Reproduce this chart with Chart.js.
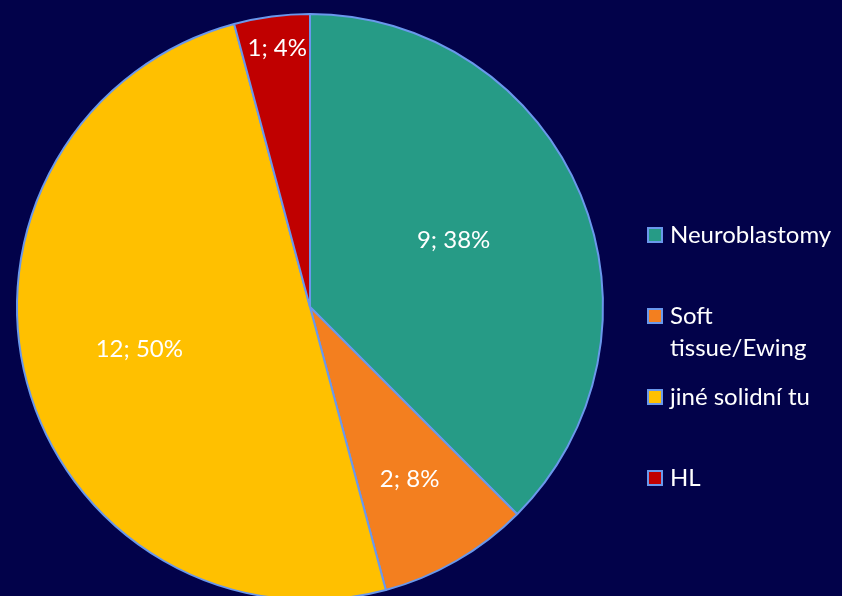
<!DOCTYPE html>
<html><head><meta charset="utf-8">
<script src="https://cdn.jsdelivr.net/npm/chart.js@4/dist/chart.umd.min.js"></script>
<style>
html,body{margin:0;padding:0;background:#02024a;overflow:hidden;}
#wrap{position:relative;width:842px;height:614px;}
</style></head><body>
<div id="wrap"><canvas id="c"></canvas></div>
<script>
const categories = ['Neuroblastomy', 'Soft tissue/Ewing', 'jiné solidní tu', 'HL'];
const values = [9, 2, 12, 1];
const percents = [38, 8, 50, 4];
const colors = ['#269B86', '#F37F1F', '#FFC000', '#C00000'];

const FONT = 'Lato, "Open Sans", sans-serif';

const labelPlugin = {
  id: 'sliceLabels',
  afterDatasetsDraw(chart, args, opts) {
    const ctx = chart.ctx;
    const meta = chart.getDatasetMeta(0);
    ctx.save();
    ctx.fillStyle = '#ffffff';
    ctx.font = '24px ' + FONT;
    ctx.textAlign = 'center';
    ctx.textBaseline = 'middle';
    meta.data.forEach((arc, i) => {
      const p = arc.getProps(['x','y','startAngle','endAngle','outerRadius'], true);
      const mid = (p.startAngle + p.endAngle) / 2 + (opts.angleShift[i] || 0);
      const r = p.outerRadius * opts.radiusFrac[i];
      const x = p.x + Math.cos(mid) * r;
      const y = p.y + Math.sin(mid) * r;
      ctx.fillText(values[i] + '; ' + percents[i] + '%', x, y);
    });
    ctx.restore();
  }
};

const legendPlugin = {
  id: 'sideLegend',
  afterDraw(chart, args, opts) {
    const ctx = chart.ctx;
    ctx.save();
    ctx.font = '24px ' + FONT;
    ctx.textBaseline = 'middle';
    ctx.textAlign = 'left';
    categories.forEach((name, i) => {
      const y = opts.top + i * opts.step;
      ctx.fillStyle = colors[i];
      ctx.fillRect(opts.x, y - 7, 14, 14);
      ctx.strokeStyle = '#6A98EC';
      ctx.lineWidth = 2;
      ctx.strokeRect(opts.x, y - 7, 14, 14);
      ctx.fillStyle = '#ffffff';
      const words = name.split(' ');
      const lines = [];
      let cur = '';
      words.forEach(w => {
        const t = cur ? cur + ' ' + w : w;
        if (ctx.measureText(t).width > opts.maxWidth && cur) { lines.push(cur); cur = w; }
        else cur = t;
      });
      lines.push(cur);
      lines.forEach((ln, k) => ctx.fillText(ln, opts.x + 22, y + k * opts.lineH));
    });
    ctx.restore();
  }
};

new Chart(document.getElementById('c'), {
  type: 'pie',
  data: {
    labels: categories,
    datasets: [{
      data: values,
      backgroundColor: colors,
      borderColor: '#6A98EC',
      borderWidth: 2
    }]
  },
  options: {
    responsive: true,
    maintainAspectRatio: false,
    animation: false,
    radius: 293,
    layout: { padding: { right: 222 } },
    plugins: {
      legend: { display: false },
      tooltip: { enabled: false },
      sliceLabels: { radiusFrac: [0.54, 0.68, 0.6, 0.89], angleShift: [-0.04, 0, 0.02, 0.005] },
      sideLegend: { x: 648, top: 235, step: 81, lineH: 32, maxWidth: 150 }
    }
  },
  plugins: [labelPlugin, legendPlugin]
});
</script>
</body></html>
